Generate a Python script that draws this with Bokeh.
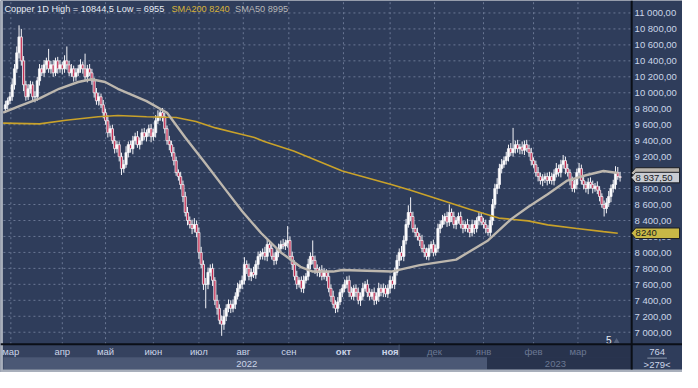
from bokeh.plotting import figure
from bokeh.models import Range1d, Label, ColumnDataSource
from bokeh.core.properties import value
from bokeh.embed import file_html
from bokeh.resources import INLINE

# ---------------- data ----------------
first_open = 9800
close = [
    9850, 9900, 9950, 10100, 10300, 10500, 10700, 10400, 10100, 9950,
    10050, 10100, 9950, 9950, 10150, 10300, 10250, 10350, 10400, 10300,
    10350, 10250, 10400, 10300, 10350, 10300, 10400, 10350, 10250, 10300,
    10200, 10250, 10300, 10350, 10300, 10200, 10300, 10250, 10150, 10000,
    9900, 9950, 9850, 9750, 9650, 9500, 9550, 9400, 9300, 9350,
    9200, 9050, 9100, 9250, 9350, 9300, 9400, 9450, 9350, 9400,
    9500, 9450, 9500, 9550, 9450, 9500, 9650, 9700, 9750, 9700,
    9550, 9400, 9350, 9250, 9150, 9000, 8950, 8850, 8700, 8500,
    8400, 8350, 8300, 8350, 8250, 8000, 7850, 7600, 7600, 7750,
    7800, 7650, 7400, 7300, 7150, 7100, 7200, 7300, 7350, 7300,
    7350, 7450, 7550, 7600, 7650, 7850, 7800, 7700, 7750, 7720,
    7850, 7950, 7980, 8000, 7950, 8100, 8050, 7950, 7900, 8000,
    8050, 8100, 8080, 8120, 8150, 7950, 7850, 7700, 7600, 7650,
    7550, 7650, 7700, 7850, 7950, 7900, 7800, 7750, 7780, 7700,
    7750, 7700, 7550, 7450, 7350, 7300, 7380, 7500, 7550, 7600,
    7650, 7500, 7450, 7550, 7500, 7400, 7450, 7550, 7600, 7500,
    7450, 7500, 7400, 7450, 7550, 7500, 7550, 7480, 7550, 7650,
    7600, 7750, 7900, 8000, 7950, 8150, 8350, 8500, 8450, 8300,
    8250, 8200, 8150, 8050, 8000, 7950, 8050, 8100, 8000, 8050,
    8300, 8350, 8400, 8450, 8380, 8500, 8450, 8350, 8400, 8450,
    8350, 8300, 8350, 8300, 8250, 8350, 8300, 8400, 8450, 8380,
    8350, 8300, 8250, 8400, 8600, 8800, 8850, 9050, 9100, 9150,
    9200, 9300, 9250, 9300, 9350, 9300, 9320, 9280, 9350, 9300,
    9250, 9150, 9100, 9000, 8950, 8900, 8920, 8950, 8900, 8950,
    8900, 8980, 9050, 9000, 9100, 9150, 9050, 9000, 8900, 8800,
    8850, 9000, 9050, 8900, 8850, 8800, 8880, 8850, 8800, 8830,
    8780, 8700, 8600, 8550, 8620, 8700, 8800, 8850, 9000, 8950,
    8937.5,
]
# upper / lower wick lengths, in tens of price units
up_wick10 = [
    5, 4, 6, 8, 6, 8, 14.5, 10, 6, 5,
    6, 5, 4, 7, 5, 6, 5, 6, 4, 15,
    5, 6, 4, 5, 6, 4, 7, 18, 5, 6,
    4, 6, 5, 7, 4, 19, 5, 6, 5, 4,
    6, 5, 4, 6, 5, 7, 4, 5, 6, 5,
    4, 5, 6, 8, 4, 5, 6, 5, 7, 4,
    5, 6, 4, 5, 6, 5, 7, 8, 5, 6,
    5, 4, 6, 5, 7, 5, 4, 6, 5, 6,
    7, 5, 6, 8, 5, 6, 7, 5, 8, 6,
    5, 6, 4, 7, 5, 6, 8, 5, 6, 5,
    6, 5, 7, 5, 6, 9, 5, 6, 5, 7,
    5, 6, 4, 5, 7, 6, 5, 6, 4, 5,
    6, 5, 7, 4, 18, 5, 6, 5, 7, 4,
    5, 6, 4, 7, 5, 20, 6, 5, 4, 6,
    5, 4, 6, 5, 7, 5, 6, 4, 5, 6,
    5, 6, 7, 4, 5, 6, 5, 7, 4, 6,
    5, 4, 6, 5, 7, 5, 6, 4, 5, 6,
    5, 6, 7, 5, 8, 6, 7, 9, 19, 6,
    5, 6, 4, 7, 5, 6, 5, 4, 6, 5,
    6, 5, 7, 4, 6, 10, 5, 6, 4, 5,
    6, 5, 4, 7, 5, 6, 5, 4, 6, 5,
    5, 6, 4, 5, 7, 6, 8, 6, 7, 5,
    6, 5, 7, 26, 5, 6, 4, 7, 5, 6,
    5, 6, 4, 5, 7, 5, 6, 4, 5, 6,
    5, 6, 7, 5, 6, 7, 5, 6, 4, 5,
    6, 5, 7, 5, 6, 4, 5, 6, 5, 4,
    6, 5, 4, 5, 6, 7, 5, 6, 8, 7,
    6,
]
dn_wick10 = [
    5, 6, 4, 5, 6, 5, 7, 6, 8, 5,
    4, 6, 5, 7, 5, 6, 4, 5, 6, 5,
    6, 5, 4, 6, 5, 7, 5, 6, 4, 5,
    6, 5, 4, 5, 6, 5, 7, 4, 5, 6,
    5, 6, 4, 7, 5, 6, 5, 4, 6, 5,
    6, 8, 5, 4, 6, 5, 7, 5, 4, 6,
    5, 4, 6, 5, 7, 5, 6, 4, 5, 6,
    6, 5, 7, 5, 6, 4, 5, 6, 7, 5,
    6, 5, 7, 5, 6, 8, 5, 7, 30, 6,
    5, 7, 6, 8, 5, 14.5, 7, 6, 5, 6,
    5, 6, 4, 5, 6, 5, 7, 5, 6, 4,
    5, 6, 4, 7, 5, 6, 5, 4, 6, 5,
    6, 5, 4, 5, 6, 5, 7, 5, 6, 4,
    5, 6, 4, 5, 6, 5, 7, 5, 6, 5,
    4, 6, 5, 7, 5, 6, 5, 4, 6, 5,
    5, 6, 4, 5, 6, 5, 7, 5, 4, 6,
    5, 4, 6, 5, 7, 5, 6, 4, 5, 6,
    5, 6, 4, 7, 5, 6, 5, 4, 6, 5,
    6, 5, 7, 5, 6, 4, 5, 6, 5, 4,
    5, 6, 4, 5, 6, 5, 7, 5, 6, 4,
    5, 6, 4, 5, 6, 5, 7, 5, 6, 4,
    5, 6, 4, 5, 6, 5, 7, 5, 6, 4,
    5, 6, 4, 5, 6, 5, 7, 5, 6, 4,
    5, 6, 4, 5, 6, 5, 7, 5, 6, 4,
    5, 6, 4, 5, 6, 5, 7, 5, 6, 4,
    5, 6, 4, 5, 6, 5, 7, 5, 6, 4,
    5, 6, 4, 10, 6, 5, 7, 5, 6, 4,
    5,
]

sma50_idx = [-1, 6.4, 15, 23.6, 32, 37.8, 43.8, 49.4, 62, 71, 79, 88, 96.6, 104,
             112.4, 121, 129.6, 135, 144, 148, 169.5, 182, 198, 212, 222.3, 229.6,
             238.2, 246.8, 255.4, 262.7, 269]
sma50_val = [9750, 9835, 9930, 10050, 10135, 10170, 10135, 10050, 9895, 9750, 9440, 9110, 8790, 8515,
             8240, 8000, 7820, 7760, 7760, 7780, 7760, 7840, 7910, 8150, 8420, 8570,
             8730, 8900, 8970, 9020, 8995]
sma200_idx = [-1, 15, 26.6, 40.8, 49.4, 62, 75, 83.7, 92.3, 100.9, 109.4, 113.7, 126.6,
              148, 169.5, 178, 191, 203.9, 216.7, 229.6, 238.2, 251, 262.7, 269]
sma200_val = [9620, 9610, 9655, 9700, 9715, 9700, 9690, 9640, 9560, 9500, 9440, 9390, 9270,
              9020, 8850, 8780, 8660, 8540, 8430, 8395, 8345, 8300, 8260, 8240]

price_ticks = list(range(7000, 11001, 200))
month_ticks = [2.4, 25, 44, 65, 85, 104.5, 124.5, 148.5, 169, 188.5, 210, 232, 251.5]
month_labels = ["мар", "апр", "май", "июн", "июл", "авг", "сен", "окт", "ноя",
                "дек", "янв", "фев", "мар"]
year_ticks = [106, 241.6]
year_labels = ["2022", "2023"]

title_text = "Copper 1D  High = 10844,5  Low = 6955"
sma200_text = "SMA200 8240"
sma50_text = "SMA50 8995"
last_price = 8937.5
last_sma50 = 8995
last_sma200 = 8240
bars_total = "764"
bars_shown = ">279<"
scroll_mark = "5"

# ---------------- layout helpers (reference pixels -> data space) ----------------
W, H = 682, 372
PX_PER_BAR = 2.33
PX_PER_PRICE = 0.08325

def xi(rx):
    return (rx - 5) / PX_PER_BAR

def yp(ry):
    return 11000 - (ry - 13) / PX_PER_PRICE

def ph(px):  # pixel height -> price units
    return px / PX_PER_PRICE

BG = "#2f3d5b"
GRID = "#6a7794"
BAND1 = "#35425f"
BAND2 = "#4b5875"
DARK = "#28334d"
EDGE = "#a8afbb"
BLACK = "#0b0f17"
LABEL = "#cbd5e8"
DIM = "#6b7893"
FONT = "Liberation Sans"

p = figure(width=W, height=H, output_backend="svg", toolbar_location=None,
           x_range=Range1d(xi(0), xi(698)), y_range=Range1d(yp(388), yp(0)),
           x_axis_type=None, y_axis_type=None,
           min_border_left=0, min_border_right=0, min_border_top=0, min_border_bottom=0)
p.background_fill_color = BG
p.border_fill_color = BG
p.outline_line_color = None
p.grid.visible = False

X0, X1 = xi(3), xi(646)
YTOP, YBOT = yp(0), yp(358.5)

# gridlines (dashed) at tick values
p.segment(x0=[X0] * len(price_ticks), x1=[X1] * len(price_ticks), y0=price_ticks, y1=price_ticks,
          line_color=GRID, line_dash="2 3", line_width=1)
p.segment(x0=month_ticks, x1=month_ticks, y0=[YBOT] * len(month_ticks), y1=[YTOP] * len(month_ticks),
          line_color=GRID, line_dash="2 3", line_width=1)

# ---------------- candles ----------------
idx = list(range(len(close)))
opens = [first_open] + close[:-1]
tops = [max(o, c) for o, c in zip(opens, close)]
bots = [min(o, c) for o, c in zip(opens, close)]
highs = [t + u * 10 for t, u in zip(tops, up_wick10)]
lows = [b - d * 10 for b, d in zip(bots, dn_wick10)]
fills = ["#ffffff" if c >= o else "#c42d52" for o, c in zip(opens, close)]
src = ColumnDataSource(dict(x=idx, top=tops, bot=bots, hi=highs, lo=lows, fill=fills))

p.segment(x0="x", y0="lo", x1="x", y1="hi", source=src, line_color="#f4f4f8", line_width=1)
p.vbar(x="x", width=0.95, top="top", bottom="bot", source=src,
       fill_color="fill", line_color="#f4f4f8", line_width=0.8)

# moving averages
p.line(sma200_idx, sma200_val, line_color="#c9a22a", line_width=1.6)
p.line(sma50_idx, sma50_val, line_color="#bdb7ae", line_width=2.4)

# scroll marker
p.text(x=[xi(622.5)], y=[yp(354)], text=[scroll_mark], text_color="#e6ebf3",
       text_font=value(FONT), text_font_size=value("10px"), text_align="center", text_baseline="middle")
p.scatter(x=[xi(630.5)], y=[yp(355.5)], marker="triangle", size=6, fill_color="#56637f", line_color=None)

# ---------------- time axis bands ----------------
band_l = [xi(3), xi(408), xi(3), xi(498), xi(646)]
band_r = [xi(408), xi(646), xi(498), xi(646), xi(698)]
band_t = [yp(359), yp(359), yp(372), yp(372), yp(359)]
band_b = [yp(372), yp(372), yp(385), yp(385), yp(385)]
band_c = [BAND1, DARK, BAND2, DARK, BG]
p.quad(left=band_l, right=band_r, top=band_t, bottom=band_b, fill_color=band_c, line_color=None)
# light outer edge (left and bottom)
p.quad(left=[xi(0), xi(0)], right=[xi(2.5), xi(698)], top=[yp(0), yp(385)], bottom=[yp(388), yp(388)],
       fill_color=EDGE, line_color=None)

# separators
p.segment(x0=[xi(0)], x1=[xi(698)], y0=[yp(358.5)], y1=[yp(358.5)], line_color=BLACK, line_width=2)
p.segment(x0=[xi(646)], x1=[xi(646)], y0=[yp(0)], y1=[yp(385)], line_color=BLACK, line_width=2)
p.segment(x0=[xi(408)], x1=[xi(408)], y0=[yp(359)], y1=[yp(372)], line_color="#4c5a77", line_width=1)
p.segment(x0=[xi(662)], x1=[xi(682)], y0=[yp(373)], y1=[yp(373)], line_color="#8a95aa", line_width=1)

# month labels
m_colors = [LABEL] * 9 + [DIM] * 4
m_styles = ["normal"] * 7 + ["bold", "bold"] + ["normal"] * 4
p.text(x=month_ticks, y=[yp(366)] * len(month_ticks), text=month_labels, text_color=m_colors,
       text_font_style=m_styles,
       text_font=value(FONT), text_font_size=value("9.5px"), text_align="center", text_baseline="middle")
p.text(x=year_ticks, y=[yp(379)] * 2, text=year_labels, text_color=[LABEL, DIM],
       text_font=value(FONT), text_font_size=value("9.5px"), text_align="center", text_baseline="middle")

# ---------------- price axis ----------------
price_labels = [f"{t:,.2f}".replace(",", " ").replace(".", ",") for t in price_ticks]
p.text(x=[xi(649)] * len(price_ticks), y=price_ticks, text=price_labels, text_color=LABEL,
       text_font=value(FONT), text_font_size=value("9.5px"), text_align="left", text_baseline="middle")

def marker_box(v, fill, txt):
    xs = [xi(645.5), xi(650), xi(695), xi(695), xi(650)]
    ys = [v, v + ph(5.5), v + ph(5.5), v - ph(5.5), v - ph(5.5)]
    p.patch(xs, ys, fill_color=fill, line_color="#1a1d24", line_width=1)
    if txt:
        p.text(x=[xi(650)], y=[v], text=[txt], text_color="#15181e",
               text_font=value(FONT), text_font_size=value("9.5px"), text_align="left",
               text_baseline="middle")

marker_box(last_sma50, "#b9b4ac", "")
marker_box(last_price, "#c9ccd2", f"{last_price:,.2f}".replace(",", " ").replace(".", ","))
marker_box(last_sma200, "#c8b846", str(last_sma200))

# bar counter box
p.text(x=[xi(672)] * 2, y=[yp(366.5), yp(380)], text=[bars_total, bars_shown], text_color=LABEL,
       text_font=value(FONT), text_font_size=value("9.5px"), text_align="center", text_baseline="middle")

# ---------------- legend line at the top ----------------
for rx, txt, col in ((4, title_text, "#e6ebf3"), (175, sma200_text, "#d9b43a"), (240, sma50_text, "#b8b8b8")):
    p.add_layout(Label(x=xi(rx), y=yp(8.5), text=txt, text_color=col, text_font=FONT,
                       text_font_size="9.2px", text_baseline="middle"))

open("out.html", "w").write(file_html(p, INLINE))
